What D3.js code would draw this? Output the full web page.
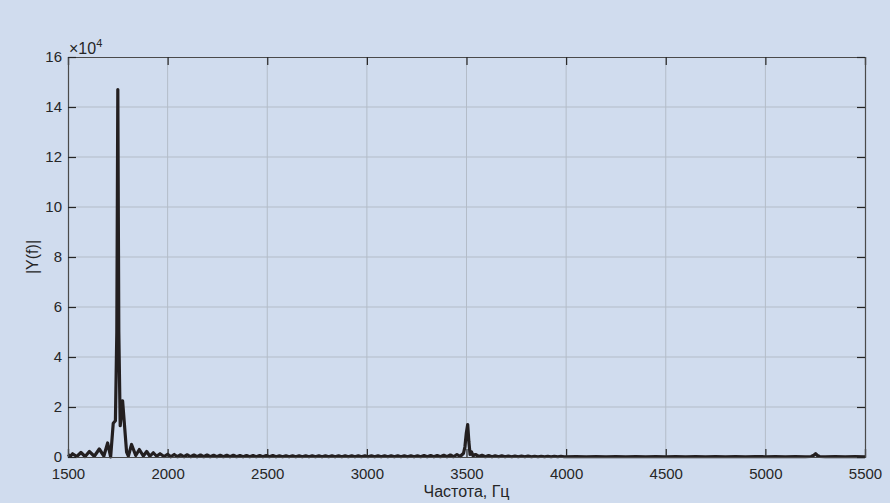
<!DOCTYPE html>
<html><head><meta charset="utf-8">
<script src="https://cdn.jsdelivr.net/npm/d3@7"></script>
<style>
html,body{margin:0;padding:0;background:#d0dcee;}
svg{display:block;font-family:"Liberation Sans",Arial,Helvetica,sans-serif;}
</style></head>
<body>
<script>
// Frequency (Hz) and |Y(f)| (×1e4)
const peakFreq = [1500,1512,1523,1544,1565,1586,1607,1632,1657,1680,1699,1714,1727,1738,1745,1750,1755,1762,1774,1794,1803,1819,1840,1858,1878,1895,1911,1928,1945,1962,1982];
const peakAmp  = [0.10,0.03,0.13,0.02,0.18,0.02,0.22,0.03,0.32,0.04,0.56,0.00,1.35,1.45,5.0,14.7,5.0,1.25,2.25,0.20,0.04,0.50,0.06,0.30,0.04,0.22,0.03,0.17,0.03,0.13,0.02];

const rippleFreq = [2000,2016,2033,2049,2066,2082,2099,2115,2132,2148,2165,2181,2198,2214,2231,2247,2264,2280,2297,2313,2330,2346,2363,2379,2396,2412,2429,2445,2462,2478,2495,2511,2528,2544,2561,2577,2594,2610,2627,2643,2660,2676,2693,2709,2726,2742,2759,2775,2792,2808,2825,2841,2858,2874,2891,2907,2924,2940,2957,2973,2990,3006,3023,3039,3056,3072,3089,3105,3122,3138,3155,3171,3188,3204,3221,3237,3254,3270,3287,3303,3320,3336,3353,3369,3386,3402,3419,3435,3452,3468];
const rippleAmp  = [0.11,0.01,0.10,0.01,0.09,0.01,0.09,0.01,0.08,0.01,0.08,0.01,0.08,0.01,0.07,0.01,0.07,0.01,0.07,0.01,0.07,0.01,0.06,0.01,0.06,0.01,0.06,0.01,0.06,0.01,0.06,0.01,0.06,0.01,0.05,0.01,0.05,0.01,0.05,0.01,0.05,0.01,0.05,0.01,0.05,0.01,0.05,0.01,0.05,0.01,0.05,0.01,0.05,0.01,0.05,0.01,0.05,0.01,0.05,0.01,0.05,0.01,0.05,0.01,0.05,0.01,0.05,0.01,0.05,0.01,0.05,0.01,0.05,0.01,0.05,0.01,0.05,0.01,0.06,0.01,0.06,0.01,0.06,0.01,0.07,0.01,0.08,0.01,0.10,0.02];

const harmFreq = [3485,3492,3499,3506,3512,3518,3525,3533,3545,3562,3578,3595,3611,3628,3644,3661,3677,3694,3710,3727,3743,3760,3776,3793,3809,3826,3842,3859,3875,3892,3908,3925,3941,3958,3974,3991];
const harmAmp  = [0.15,0.40,0.95,1.30,0.60,0.10,0.20,0.05,0.10,0.02,0.07,0.01,0.06,0.01,0.05,0.01,0.05,0.01,0.04,0.01,0.04,0.01,0.04,0.01,0.04,0.01,0.03,0.01,0.03,0.01,0.03,0.01,0.03,0.01,0.03,0.01];

const tailFreq = [4050,4100,4150,4200,4250,4300,4350,4400,4450,4500,4550,4600,4650,4700,4750,4800,4850,4900,4950,5000,5050,5100,5150,5200,5230,5243,5252,5261,5272,5300,5350,5400,5450,5500];
const tailAmp  = [0.02,0.01,0.02,0.01,0.02,0.01,0.02,0.01,0.02,0.01,0.02,0.01,0.02,0.01,0.02,0.01,0.02,0.01,0.02,0.01,0.02,0.01,0.02,0.01,0.02,0.07,0.13,0.06,0.02,0.01,0.02,0.01,0.02,0.01];

const xTicks = [1500,2000,2500,3000,3500,4000,4500,5000,5500];
const yTicks = [0,2,4,6,8,10,12,14,16];
const xLabel = "Частота, Гц";
const yLabel = "|Y(f)|";

const W = 890, H = 503;
const m = {left:68, right:25, top:57, bottom:46};
const pw = W - m.left - m.right, ph = H - m.top - m.bottom;

const svg = d3.select("body").append("svg").attr("width",W).attr("height",H);
svg.append("rect").attr("width",W).attr("height",H).attr("fill","#d0dcee");

const x = d3.scaleLinear().domain([1500,5500]).range([m.left, m.left+pw]);
const y = d3.scaleLinear().domain([0,16]).range([m.top+ph, m.top]);

const g = svg.append("g");
// grid
g.selectAll(".gx").data(xTicks.slice(1,-1)).enter().append("line")
  .attr("x1",d=>x(d)).attr("x2",d=>x(d)).attr("y1",m.top).attr("y2",m.top+ph)
  .attr("stroke","#b3bcc8").attr("stroke-width",1);
g.selectAll(".gy").data(yTicks.slice(1,-1)).enter().append("line")
  .attr("x1",m.left).attr("x2",m.left+pw).attr("y1",d=>y(d)).attr("y2",d=>y(d))
  .attr("stroke","#b3bcc8").attr("stroke-width",1);

// data
const pts = [];
peakFreq.forEach((f,i)=>pts.push([f,peakAmp[i]]));
rippleFreq.forEach((f,i)=>pts.push([f,rippleAmp[i]]));
harmFreq.forEach((f,i)=>pts.push([f,harmAmp[i]]));
tailFreq.forEach((f,i)=>pts.push([f,tailAmp[i]]));
pts.sort((a,b)=>a[0]-b[0]);

svg.append("path").datum(pts)
  .attr("d", d3.line().x(d=>x(d[0])).y(d=>y(d[1])))
  .attr("fill","none").attr("stroke","#231f20").attr("stroke-width",3.2)
  .attr("stroke-linejoin","round");

// axes
const tickLen = 8;
const axX = d3.axisBottom(x).tickValues(xTicks).tickSize(-tickLen).tickPadding(11).tickFormat(d3.format("d"));
const axXt = d3.axisTop(x).tickValues(xTicks).tickSize(-tickLen).tickFormat("");
const axY = d3.axisLeft(y).tickValues(yTicks).tickSize(-tickLen).tickPadding(6).tickFormat(d3.format("d"));
const axYr = d3.axisRight(y).tickValues(yTicks).tickSize(-tickLen).tickFormat("");

function style(sel){
  sel.select(".domain").attr("stroke","#4a4a4a").attr("stroke-width",1.2);
  sel.selectAll(".tick line").attr("stroke","#262626").attr("stroke-width",1.2);
  sel.selectAll(".tick text").attr("fill","#262626").attr("font-size",15)
    .attr("font-family","Liberation Sans, Arial, sans-serif");
}
svg.append("g").attr("transform",`translate(0,${m.top+ph})`).call(axX).call(style);
svg.append("g").attr("transform",`translate(0,${m.top})`).call(axXt).call(style);
const gy = svg.append("g").attr("transform",`translate(${m.left},0)`).call(axY).call(style);
gy.selectAll(".tick text").attr("dy","0.28em");
svg.append("g").attr("transform",`translate(${m.left+pw},0)`).call(axYr).call(style);

// labels
svg.append("text").attr("x",x(3500)).attr("y",497).attr("text-anchor","middle")
  .attr("font-size",16).attr("fill","#262626").text(xLabel);
svg.append("text").attr("transform",`translate(38,${y(8)}) rotate(-90)`)
  .attr("text-anchor","middle").attr("font-size",16).attr("fill","#262626").text(yLabel);

const ex = svg.append("text").attr("x",69).attr("y",54).attr("font-size",16).attr("fill","#262626");
ex.append("tspan").text("×10");
ex.append("tspan").attr("dy",-7).attr("font-size",11).text("4");
</script>
</body></html>
